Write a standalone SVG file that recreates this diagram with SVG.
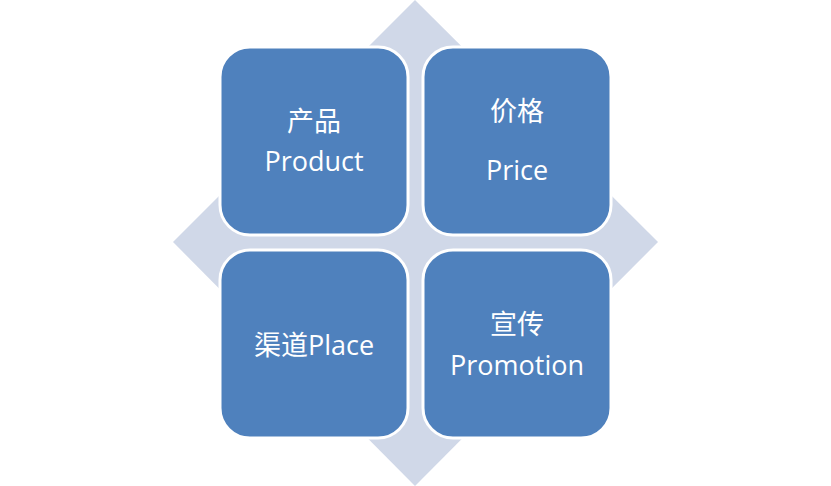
<svg xmlns="http://www.w3.org/2000/svg" width="831" height="486" viewBox="0 0 831 486">
<style>
.box{fill:#4F81BD;stroke:#fff;stroke-width:3}
.t{fill:#fff;font-family:"Open Sans","Noto Sans CJK SC",sans-serif;font-size:27px;text-anchor:middle}
</style>
<rect width="831" height="486" fill="#fff"/>
<polygon points="415,0 658,242 415,486 173,242" fill="#D0D8E8"/>
<g id="product"><rect class="box" x="220" y="47" width="188" height="188" rx="30"/><text class="t" x="314" y="131">产品</text><text class="t" x="314" y="171">Product</text></g>
<g id="price"><rect class="box" x="423" y="47" width="188" height="188" rx="30"/><text class="t" x="517" y="121">价格</text><text class="t" x="517" y="180">Price</text></g>
<g id="place"><rect class="box" x="220" y="250" width="188" height="188" rx="30"/><text class="t" x="314" y="355">渠道Place</text></g>
<g id="promotion"><rect class="box" x="423" y="250" width="188" height="188" rx="30"/><text class="t" x="517" y="334">宣传</text><text class="t" x="517" y="375">Promotion</text></g>
<g id="connectors"/>
</svg>
